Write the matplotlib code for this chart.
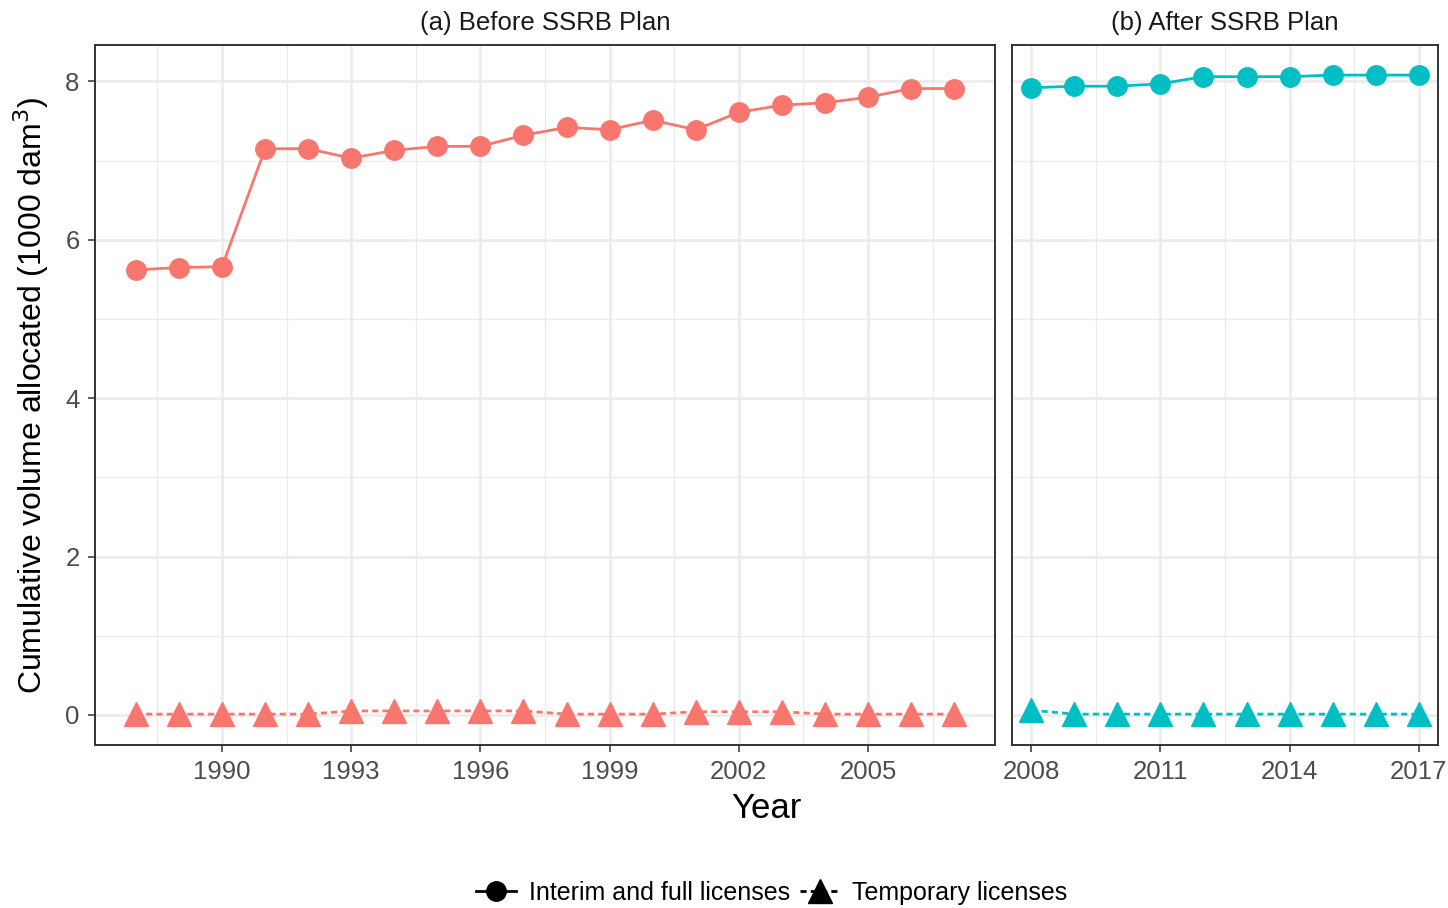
import numpy as np
import matplotlib
matplotlib.use('Agg')
import matplotlib.pyplot as plt
import matplotlib.lines as mlines

plt.rcParams['font.family'] = ['Liberation Sans', 'DejaVu Sans']

# cumulative allocations (1000 dam^3)
years_before = list(range(1988, 2008))
full_before = [5.62, 5.65, 5.66, 7.15, 7.15, 7.03, 7.13, 7.18, 7.18, 7.32,
               7.42, 7.39, 7.51, 7.39, 7.61, 7.70, 7.73, 7.80, 7.91, 7.91]
temp_before = [0.01, 0.01, 0.01, 0.01, 0.01, 0.05, 0.05, 0.05, 0.05, 0.05,
               0.01, 0.01, 0.01, 0.04, 0.04, 0.04, 0.01, 0.01, 0.01, 0.01]

years_after = list(range(2008, 2018))
full_after = [7.92, 7.94, 7.94, 7.97, 8.06, 8.06, 8.06, 8.08, 8.08, 8.08]
temp_after = [0.06, 0.01, 0.01, 0.01, 0.01, 0.01, 0.01, 0.01, 0.01, 0.01]

ticks_before = [1990, 1993, 1996, 1999, 2002, 2005]
ticks_after = [2008, 2011, 2014, 2017]

red = '#F8766D'
cyan = '#00BFC4'
dash = (0, (2.2, 1.5))

fig = plt.figure(figsize=(14.48, 9.08), dpi=100)
W, H = 1448, 908
ax1 = fig.add_axes([95 / W, 1 - 745 / H, 900 / W, 700 / H])
ax2 = fig.add_axes([1012 / W, 1 - 745 / H, 426 / W, 700 / H])


def panel(ax, yrs, full, temp, col, ticks, title):
    ax.plot(yrs, full, '-o', color=col, lw=2, ms=14, zorder=3)
    ax.plot(yrs, temp, '^', color=col, ms=17, zorder=3, ls=dash, lw=2)
    ax.set_xticks(ticks)
    minor_x = [t - 1.5 for t in ticks] + [ticks[-1] + 1.5]
    ax.set_xticks(minor_x, minor=True)
    ax.set_yticks([0, 2, 4, 6, 8])
    ax.set_yticks([1, 3, 5, 7], minor=True)
    span = yrs[-1] - yrs[0]
    ax.set_xlim(yrs[0] - 0.05 * span, yrs[-1] + 0.05 * span)
    ax.set_ylim(-0.38, 8.46)
    ax.grid(which='major', color='#ebebeb', lw=1.8, zorder=0)
    ax.grid(which='minor', color='#ebebeb', lw=0.9, zorder=0)
    ax.tick_params(which='minor', length=0)
    ax.tick_params(which='major', length=5, width=1.1, color='#333333',
                   labelsize=18.5, labelcolor='#4d4d4d', pad=6)
    for s in ax.spines.values():
        s.set_color('#333333')
        s.set_linewidth(1.4)
    ax.set_axisbelow(True)
    ax.set_title(title, fontsize=18.5, color='#1a1a1a', pad=11)


panel(ax1, years_before, full_before, temp_before, red, ticks_before,
      '(a) Before SSRB Plan')
panel(ax2, years_after, full_after, temp_after, cyan, ticks_after,
      '(b) After SSRB Plan')
ax2.tick_params(axis='y', left=False, labelleft=False)

ax1.set_ylabel('Cumulative volume allocated (1000 dam$^3$)', fontsize=23, labelpad=10)
fig.text(766 / W, 1 - 808 / H, 'Year', fontsize=25, ha='center', va='center')

h1 = mlines.Line2D([], [], color='black', marker='o', ms=14, lw=2,
                   label='Interim and full licenses')
h2 = mlines.Line2D([], [], color='black', marker='^', ms=17, lw=2,
                   ls=dash, label='Temporary licenses')
fig.legend(handles=[h1, h2], loc='center', bbox_to_anchor=(772 / W, 1 - 893 / H),
           ncol=2, frameon=False, fontsize=18, handlelength=1.6,
           handletextpad=0.5, columnspacing=0.4)

fig.savefig('out.png', dpi=100)
